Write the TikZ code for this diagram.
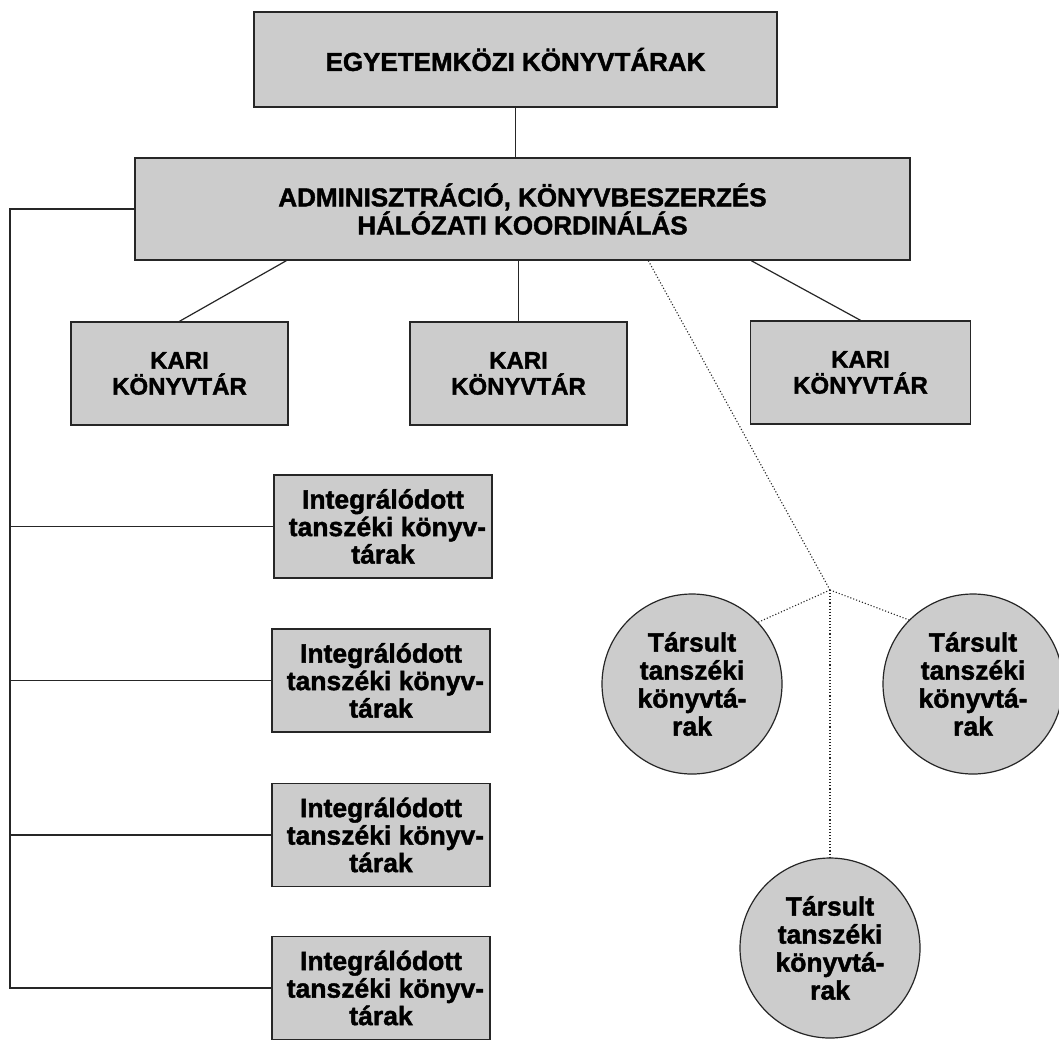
\documentclass[tikz,border=0pt]{standalone}
\usepackage{fontspec}
\setmainfont{Liberation Sans}[BoldFeatures={FakeBold=1.6}]
\definecolor{boxgray}{gray}{0.8}
\definecolor{linegray}{gray}{0.15}
\begin{document}
\begin{tikzpicture}[x=1pt,y=-1pt,
  box/.style={draw=linegray, line width=1.4pt, fill=boxgray, align=center, inner sep=0pt, font=\bfseries},
  bigtext/.style={font=\bfseries\fontsize{26}{26}\selectfont},
  karitext/.style={font=\bfseries\fontsize{24}{26}\selectfont},
  smalltext/.style={font=\bfseries\fontsize{26.5}{27.5}\selectfont},
  circ/.style={circle, draw=linegray, line width=1.2pt, fill=boxgray, align=center, inner sep=0pt, minimum size=180pt, font=\bfseries\fontsize{26.5}{28}\selectfont},
  conn/.style={draw=linegray, line width=1.2pt},
  dotconn/.style={draw=linegray, line width=1.1pt, dotted}
]
\useasboundingbox (0,0) rectangle (1059,1039);
\fill[white] (0,0) rectangle (1059,1039);

% top boxes
\node[box, bigtext, minimum width=523pt, minimum height=95pt] (top) at (515.5,59.5) {EGYETEMKÖZI KÖNYVTÁRAK};
\node[box, bigtext, minimum width=775pt, minimum height=102pt] (admin) at (522.5,209) {ADMINISZTRÁCIÓ, KÖNYVBESZERZÉS\\HÁLÓZATI KOORDINÁLÁS};

% kari boxes
\node[box, karitext, minimum width=217pt, minimum height=103pt] (k1) at (179.5,373.5) {KARI\\KÖNYVTÁR};
\node[box, karitext, minimum width=217pt, minimum height=103pt] (k2) at (518.5,373.5) {KARI\\KÖNYVTÁR};
\node[box, karitext, minimum width=220pt, minimum height=103pt] (k3) at (860.5,372.5) {KARI\\KÖNYVTÁR};

% integrated boxes
\node[box, smalltext, minimum width=218pt, minimum height=103pt] (i1) at (383,526.5) {Integrálódott\\tanszéki köny\rlap{v-}\phantom{v}\\tárak};
\node[box, smalltext, minimum width=218pt, minimum height=103pt] (i2) at (381,680.5) {Integrálódott\\tanszéki köny\rlap{v-}\phantom{v}\\tárak};
\node[box, smalltext, minimum width=218pt, minimum height=103pt] (i3) at (381,835) {Integrálódott\\tanszéki köny\rlap{v-}\phantom{v}\\tárak};
\node[box, smalltext, minimum width=218pt, minimum height=103pt] (i4) at (381,988) {Integrálódott\\tanszéki köny\rlap{v-}\phantom{v}\\tárak};

% circles
\node[circ] (lc) at (692,684) {Társult\\tanszéki\\könyvtá-\\rak};
\node[circ] (rc) at (973,684) {Társult\\tanszéki\\könyvtá-\\rak};
\node[circ] (bc) at (830,948) {Társult\\tanszéki\\könyvtá-\\rak};

% solid connectors
\draw[conn] (top.south) -- (top.south |- admin.north);
\draw[conn] ([xshift=152pt]admin.south west) -- (k1.north);
\draw[conn] (admin.south -| k2.north) -- (k2.north);
\draw[conn] ([xshift=617pt]admin.south west) -- (k3.north);

% left trunk
\coordinate (t1) at (10,209);
\coordinate (t4) at (10,988);
\draw[conn] (admin.west) -- (t1) -- (t4) -- (i4.west);
\draw[conn] (i1.west) -- (i1.west -| t1);
\draw[conn] (i2.west) -- (i2.west -| t1);
\draw[conn] (i3.west) -- (i3.west -| t1);

% dotted connectors
\coordinate (j) at (830,590);
\draw[dotconn] ([xshift=514pt]admin.south west) -- (j);
\draw[dotconn] (j) -- (lc.43);
\draw[dotconn] (j) -- (rc.135);
\draw[dotconn] (j) -- (bc.north);
\end{tikzpicture}
\end{document}
